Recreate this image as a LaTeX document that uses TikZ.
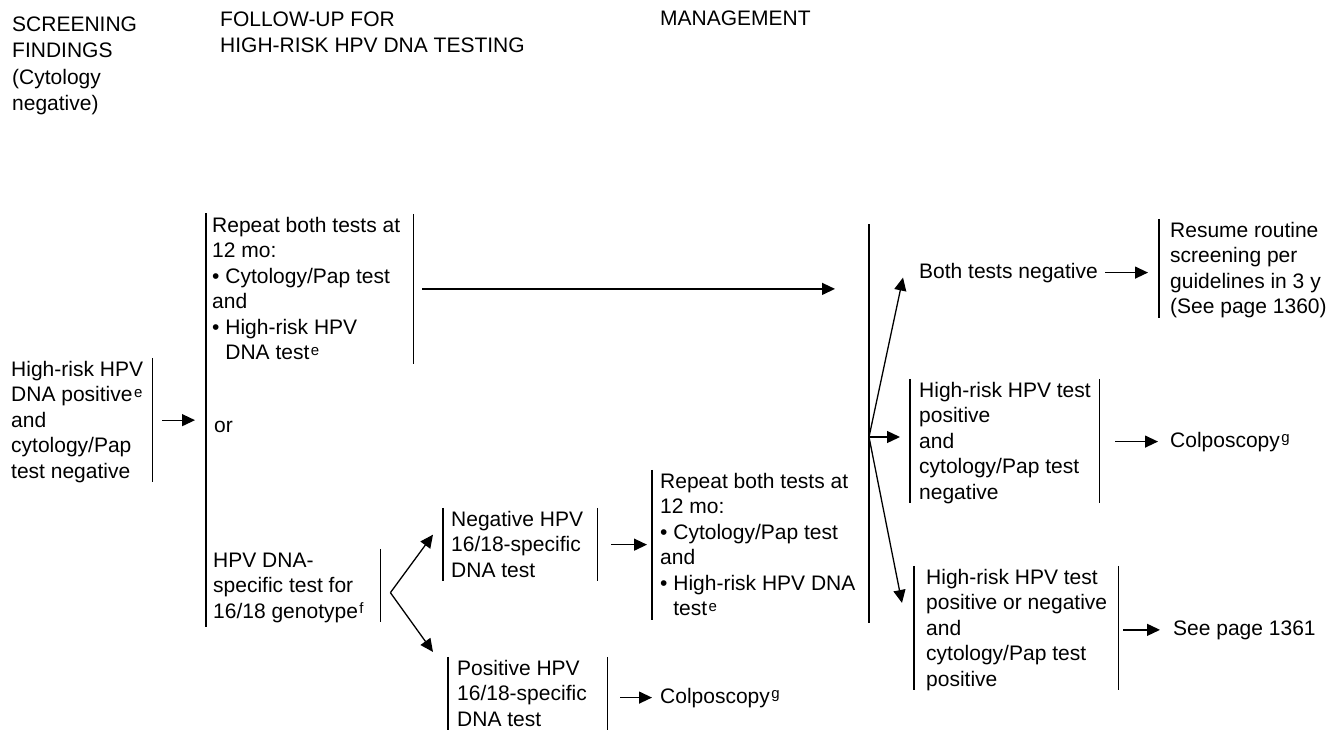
\documentclass[tikz,border=0pt]{standalone}
\usepackage{fontspec}
\setmainfont{Liberation Sans}
\usetikzlibrary{arrows.meta,calc}

% small raised footnote letter
\newcommand\fnl[1]{\kern1.5pt\raisebox{4.5pt}{\fontsize{15}{15}\selectfont #1}}
\newcommand\blt{\textbullet\ }
\newcommand\ind{\hphantom{\textbullet\ }}
% fixed-width block: total width, left gap, lines
\newcommand\bx[3]{\makebox[#1][l]{\hspace*{#2}\begin{tabular}[t]{@{}l@{}}#3\\[-3.5pt]\end{tabular}}}
% column heading
\newcommand\hd[1]{{\fontsize{21}{26.5}\selectfont\begin{tabular}[t]{@{}l@{}}#1\end{tabular}}}

\begin{document}
\begin{tikzpicture}[x=1pt,y=-1pt,
  font=\fontsize{21}{25.5}\selectfont,
  bar/.style={line width=1.4pt},
  arr/.style={line width=1.3pt,-{Triangle[length=13pt,width=12pt]}},
  txt/.style={anchor=base west,inner sep=0pt}]
\useasboundingbox (0,0) rectangle (1331,729);

% column headings
\node[txt] (hscr) at (12,31) {\hd{SCREENING\\FINDINGS\\(Cytology\\negative)}};
\node[txt] (hfu) at (220,26) {\hd{FOLLOW-UP FOR\\HIGH-RISK HPV DNA TESTING}};
\node[txt] (hmg) at (660,25) {MANAGEMENT};

% long bars of the follow-up and management columns
\coordinate (c2t) at (206,213);
\coordinate (c2b) at (206,627);
\coordinate (mt) at (869,224);
\coordinate (mb) at (869,623);
\coordinate (fan) at (869,437);

% text blocks
\node[txt] (pos) at (3,376) {\bx{149pt}{8pt}{High-risk HPV\\DNA positive\fnl{e}\\and\\cytology/Pap\\test negative}};
\node[txt] (rep1) at (206,232) {\bx{207pt}{6pt}{Repeat both tests at\\12 mo:\\\blt Cytology/Pap test\\and\\\blt High-risk HPV\\\ind DNA test\fnl{e}}};
\node[txt] (orr) at (214,432) {or};
\node[txt] (hpvdna) at (206,567) {\bx{174pt}{7pt}{HPV DNA-\\specific test for\\16/18 genotype\fnl{f}}};
\node[txt] (neg) at (443,526) {\bx{154pt}{8pt}{Negative HPV\\16/18-specific\\DNA test}};
\node[txt] (pos16) at (448,675) {\bx{159pt}{9pt}{Positive HPV\\16/18-specific\\DNA test}};
\node[txt] (colpoA) at (660,703) {Colposcopy\fnl{g}};
\node[txt] (rep2) at (652,488) {\bx{217pt}{8pt}{Repeat both tests at\\12 mo:\\\blt Cytology/Pap test\\and\\\blt High-risk HPV DNA\\\ind test\fnl{e}}};
\node[txt] (both) at (919,278) {Both tests negative};
\node[txt] (resume) at (1159,237) {\bx{170pt}{11pt}{Resume routine\\screening per\\guidelines in 3 y\\(See page 1360)}};
\node[txt] (hr1) at (910,397) {\bx{189pt}{9pt}{High-risk HPV test\\positive\\and\\cytology/Pap test\\negative}};
\node[txt] (colpoB) at (1170,447) {Colposcopy\fnl{g}};
\node[txt] (hr2) at (914,584) {\bx{204pt}{12pt}{High-risk HPV test\\positive or negative\\and\\cytology/Pap test\\positive}};
\node[txt] (seep) at (1173,635) {See page 1361};

% side bars
\draw[bar] (c2t) -- (c2b);
\draw[bar] (mt) -- (mb);
\draw[bar] (pos.north east) -- (pos.south east);
\draw[bar] (rep1.north east) -- (rep1.south east);
\draw[bar] (hpvdna.north east) -- (hpvdna.south east);
\draw[bar] (neg.north west) -- (neg.south west) (neg.north east) -- (neg.south east);
\draw[bar] (pos16.north west) -- (pos16.south west) (pos16.north east) -- (pos16.south east);
\draw[bar] (rep2.north west) -- (rep2.south west);
\draw[bar] (resume.north west) -- (resume.south west);
\draw[bar] (hr1.north west) -- (hr1.south west) (hr1.north east) -- (hr1.south east);
\draw[bar] (hr2.north west) -- (hr2.south west) (hr2.north east) -- (hr2.south east);

% connectors
\draw[arr] ($(pos.east)+(10,0)$) -- ($(pos.east -| c2t)+(-11,0)$);
\draw[arr] ($(rep1.east)+(9,0)$) -- ($(rep1.east -| mt)+(-34,0)$);
\coordinate (fork) at ($(hpvdna.east)+(10,7)$);
\draw[arr] (fork) -- ($(neg.west)+(-10,-10)$);
\draw[arr] (fork) -- ($(pos16.north west)+(-15,-5)$);
\draw[arr] ($(neg.east)+(14,0)$) -- ($(neg.east -| rep2.west)+(-5,0)$);
\draw[arr] ($(pos16.east |- colpoA.west)+(13,0)$) -- ($(colpoA.west)+(-8,0)$);
\draw[arr] (fan) -- ($(both.west)+(-16,5)$);
\draw[arr] (fan) -- ($(fan -| hr1.west)+(-10,0)$);
\draw[arr] (fan) -- ($(hr2.north west)+(-12,37)$);
\draw[arr] ($(both.east)+(7,0)$) -- ($(both.east -| resume.west)+(-11,0)$);
\draw[arr] ($(hr1.east |- colpoB.west)+(16,0)$) -- ($(colpoB.west)+(-12,0)$);
\draw[arr] ($(hr2.east |- seep.west)+(5,0)$) -- ($(seep.west)+(-13,0)$);
\end{tikzpicture}
\end{document}
